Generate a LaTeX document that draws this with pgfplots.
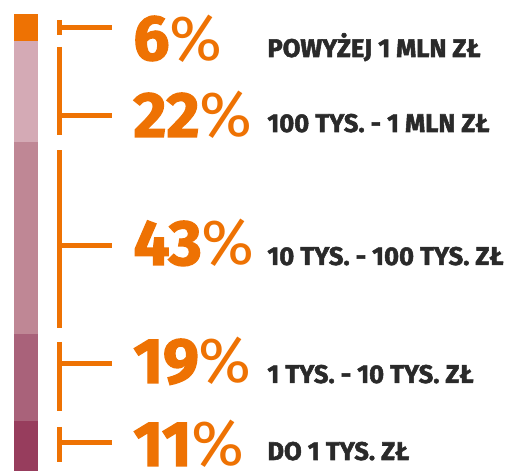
\documentclass[border=0pt]{standalone}
\usepackage{fontspec}
\setmainfont{Fira Sans}
\newfontfamily\fheavyf{Fira Sans}[BoldFeatures={FakeBold=2}]
\newcommand\fheavy{\fheavyf\bfseries}
\newfontfamily\flight{Fira Sans}
\usepackage{pgfplots}
\pgfplotsset{compat=1.18}
\definecolor{org}{RGB}{238,114,3}
\definecolor{pA}{RGB}{151,61,93}
\definecolor{pB}{RGB}{169,98,122}
\definecolor{pC}{RGB}{191,135,149}
\definecolor{pD}{RGB}{212,170,181}
\definecolor{txt}{RGB}{42,42,42}
\begin{document}
\begin{tikzpicture}
\begin{axis}[
  scale only axis, x=0.5pt, y=2.285pt,
  xmin=0, xmax=522, ymin=0, ymax=103.063,
  hide axis, clip=false,
  ybar stacked, bar width=12pt,
]
\addplot[ybar stacked, fill=pA, draw=none] coordinates {(26,11)};
\addplot[ybar stacked, fill=pB, draw=none] coordinates {(26,19)};
\addplot[ybar stacked, fill=pC, draw=none] coordinates {(26,42)};
\addplot[ybar stacked, fill=pD, draw=none] coordinates {(26,22)};
\addplot[ybar stacked, fill=org, draw=none] coordinates {(26,6)};
\end{axis}
\begin{axis}[
  scale only axis, x=0.5pt, y=2.285pt,
  xmin=0, xmax=522, ymin=0, ymax=103.063,
  hide axis, clip=false,
]
% brackets
\addplot[org, line width=2.5pt, no marks] coordinates {(59.5,98.69) (59.5,95.40)};
\addplot[org, line width=2.5pt, no marks] coordinates {(59.5,97.05) (112,97.05)};
\addplot[org, line width=2.5pt, no marks] coordinates {(59.5,92.78) (59.5,73.52)};
\addplot[org, line width=2.5pt, no marks] coordinates {(59.5,77.68) (112,77.68)};
\addplot[org, line width=2.5pt, no marks] coordinates {(59.5,70.24) (59.5,31.29)};
\addplot[org, line width=2.5pt, no marks] coordinates {(59.5,49.45) (112,49.45)};
\addplot[org, line width=2.5pt, no marks] coordinates {(59.5,28.23) (59.5,13.13)};
\addplot[org, line width=2.5pt, no marks] coordinates {(59.5,23.63) (112,23.63)};
\addplot[org, line width=2.5pt, no marks] coordinates {(59.5,9.63) (59.5,1.97)};
\addplot[org, line width=2.5pt, no marks] coordinates {(59.5,6.13) (112,6.13)};
% percentages
\tikzset{pct/.style={anchor=base west, inner sep=0pt, text=org, font=\fontsize{32}{32}\selectfont}}
\tikzset{lab/.style={anchor=base west, inner sep=0pt, text=txt, font=\fheavy\fontsize{12.8}{13}\selectfont}}
\node[pct] at (axis cs:133,89.93) {{\fheavy 6}{\flight\%}};
\node[pct] at (axis cs:133,73.09) {{\fheavy 22}{\flight\%}};
\node[pct] at (axis cs:133,45.08) {{\fheavy 43}{\flight\%}};
\node[pct] at (axis cs:133,19.26) {{\fheavy 19}{\flight\%}};
\node[pct] at (axis cs:133,1.1) {{\fheavy 11}{\flight\%}};
\node[lab] at (axis cs:267,90.59) {POWYŻEJ 1 MLN ZŁ};
\node[lab] at (axis cs:267,74.18) {100 TYS. - 1 MLN ZŁ};
\node[lab] at (axis cs:267,45.08) {10 TYS. - 100 TYS. ZŁ};
\node[lab] at (axis cs:267,19.26) {1 TYS. - 10 TYS. ZŁ};
\node[lab] at (axis cs:267,2.41) {DO 1 TYS. ZŁ};
\end{axis}
\pgfresetboundingbox
\path (0,0) rectangle (261pt,235.5pt);
\end{tikzpicture}
\end{document}
